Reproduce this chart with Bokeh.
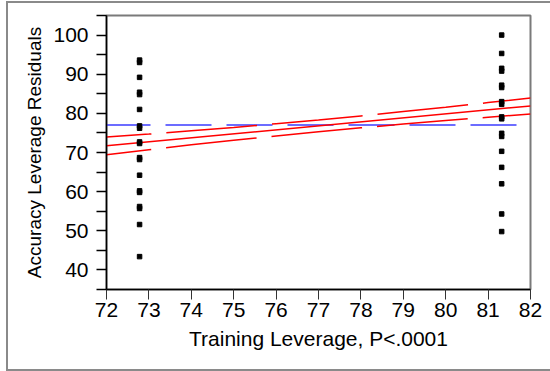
from bokeh.plotting import figure
from bokeh.models import FixedTicker, Range1d
from bokeh.embed import file_html
from bokeh.resources import INLINE

# ---- data ----
x_ticks = [72, 73, 74, 75, 76, 77, 78, 79, 80, 81, 82]
y_ticks = [40, 50, 60, 70, 80, 90, 100]
y_minor = [35, 45, 55, 65, 75, 85, 95, 105]

low_x = 72.78
low_vals = [93.6, 93.0, 89.2, 85.4, 84.8, 81.0, 76.8, 76.2, 72.7, 72.3,
            68.7, 68.2, 64.2, 60.2, 59.8, 56.2, 55.7, 51.6, 43.4]
high_x = 81.32
high_vals = [100.0, 95.3, 91.5, 90.8, 87.2, 86.6, 83.0, 82.3, 79.1, 78.6,
             74.9, 74.1, 70.3, 66.2, 62.0, 54.3, 49.8]

fit_x = [72, 82]
fit_y = [71.7, 81.9]

ci_x = [72, 73, 74, 75, 76, 77, 78, 79, 80, 81, 82]
ci_upper = [73.95, 74.7, 75.55, 76.4, 77.35, 78.3, 79.35, 80.45, 81.55, 82.75, 83.95]
ci_lower = [69.45, 70.7, 71.95, 73.1, 74.2, 75.3, 76.3, 77.25, 78.15, 79.0, 79.85]

mean_x = [72, 82]
mean_y = [77.0, 77.0]

x_label = "Training Leverage, P<.0001"
y_label = "Accuracy Leverage Residuals"

FONT = "Liberation Sans"

p = figure(width=550, height=371, output_backend="svg", toolbar_location=None,
           x_range=Range1d(72, 82), y_range=Range1d(35, 105),
           min_border_left=106, min_border_right=20,
           min_border_top=15, min_border_bottom=82)

# outer frame of the picture, painted behind a transparent border area
p.styles = {
    "box-shadow": ("inset 0 1px 0 0 #ffffff, inset 6px 0 0 0 #ffffff, "
                   "inset 8px 0 0 0 #8a8a8a, inset 0 3px 0 0 #8a8a8a, "
                   "inset 0 -2px 0 0 #8a8a8a"),
    "background-color": "#ffffff",
}

p.xgrid.visible = False
p.ygrid.visible = False
p.background_fill_color = "white"
p.border_fill_color = None
p.outline_line_color = "#7a7a7a"
p.outline_line_width = 2

# axes
for ax in (p.xaxis[0], p.yaxis[0]):
    ax.axis_line_color = "black"
    ax.axis_line_width = 1.5
    ax.major_tick_in = 0
    ax.major_tick_out = 10
    ax.major_tick_line_color = "black"
    ax.major_label_text_font = FONT
    ax.major_label_text_font_size = "21px"
    ax.major_label_text_color = "black"
    ax.axis_label_text_font = FONT
    ax.axis_label_text_font_style = "normal"
    ax.axis_label_text_color = "black"

p.xaxis.ticker = FixedTicker(ticks=x_ticks)
p.xaxis.major_tick_line_width = 1
p.xaxis.major_tick_line_color = "#333333"
p.xaxis.minor_tick_line_color = None
p.xaxis.major_label_standoff = 3
p.xaxis.axis_label = x_label
p.xaxis.axis_label_text_font_size = "21px"
p.xaxis.axis_label_standoff = 7

p.yaxis.ticker = FixedTicker(ticks=y_ticks, minor_ticks=y_minor)
p.yaxis.major_tick_line_width = 1.5
p.yaxis.minor_tick_in = 0
p.yaxis.minor_tick_out = 10
p.yaxis.minor_tick_line_color = "black"
p.yaxis.minor_tick_line_width = 1.5
p.yaxis.major_label_standoff = 8
p.yaxis.axis_label = y_label
p.yaxis.axis_label_text_font_size = "19px"
p.yaxis.axis_label_standoff = 5

# mean line (blue dashed)
p.line(mean_x, mean_y, line_color="#3c3cff", line_width=1.5,
       line_dash="46 15", line_dash_offset=2)

# fit and confidence curves
p.line(fit_x, fit_y, line_color="#ff0000", line_width=1.5)
p.line(ci_x, ci_upper, line_color="#ff0000", line_width=1.5,
       line_dash="91 15", line_dash_offset=46)
p.line(ci_x, ci_lower, line_color="#ff0000", line_width=1.5,
       line_dash="91 15", line_dash_offset=46)

# points
p.scatter([low_x] * len(low_vals), low_vals, marker="square", size=4.5,
          color="black")
p.scatter([high_x] * len(high_vals), high_vals, marker="square", size=4.5,
          color="black")

open("out.html", "w").write(file_html(p, INLINE))
